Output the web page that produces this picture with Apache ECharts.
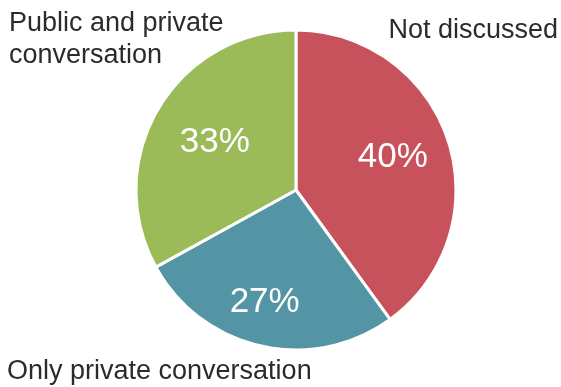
<!DOCTYPE html>
<html>
<head>
<meta charset="utf-8">
<script src="https://cdn.jsdelivr.net/npm/echarts@6/dist/echarts.min.js"></script>
<style>
html,body{margin:0;padding:0;background:#fff;}
#main{width:561px;height:387px;}
</style>
</head>
<body>
<div id="main"></div>
<script>
const categories = ['Not discussed', 'Only private conversation', 'Public and private\nconversation'];
const values = [40, 27, 33];
const labels = ['40%', '27%', '33%'];
const colors = ['#C8525B', '#5394A5', '#9BBB59'];

const chart = echarts.init(document.getElementById('main'), null, {renderer: 'canvas'});
const font = 'Liberation Sans, Arial, sans-serif';
const labelOffsets = [[-5, 0], [-8, 8], [11, 7]];

const pieData = categories.map((c, i) => ({name: c, value: values[i], itemStyle: {color: colors[i]}}));
const labelData = categories.map((c, i) => ({name: c, value: values[i], label: {formatter: labels[i], offset: labelOffsets[i]}}));

chart.setOption({
  animation: false,
  series: [
    {
      type: 'pie',
      center: [296, 190],
      radius: [0, 160],
      startAngle: 90,
      clockwise: true,
      silent: true,
      label: {show: false},
      labelLine: {show: false},
      itemStyle: {borderColor: '#fff', borderWidth: 3},
      data: pieData
    },
    {
      type: 'pie',
      center: [296, 190],
      radius: [48, 160],
      startAngle: 90,
      clockwise: true,
      silent: true,
      itemStyle: {color: 'rgba(0,0,0,0)'},
      label: {show: true, position: 'inside', color: '#fff', fontSize: 35, fontFamily: font},
      labelLine: {show: false},
      data: labelData
    }
  ],
  graphic: [
    {type: 'text', left: 9, top: 8, style: {text: categories[2], font: '27px ' + font, fill: '#2b2b2b', lineHeight: 32}},
    {type: 'text', right: 3, top: 17, style: {text: categories[0], font: '27px ' + font, fill: '#2b2b2b'}},
    {type: 'text', left: 7, top: 358, style: {text: categories[1], font: '27px ' + font, fill: '#2b2b2b'}}
  ]
});
</script>
</body>
</html>
